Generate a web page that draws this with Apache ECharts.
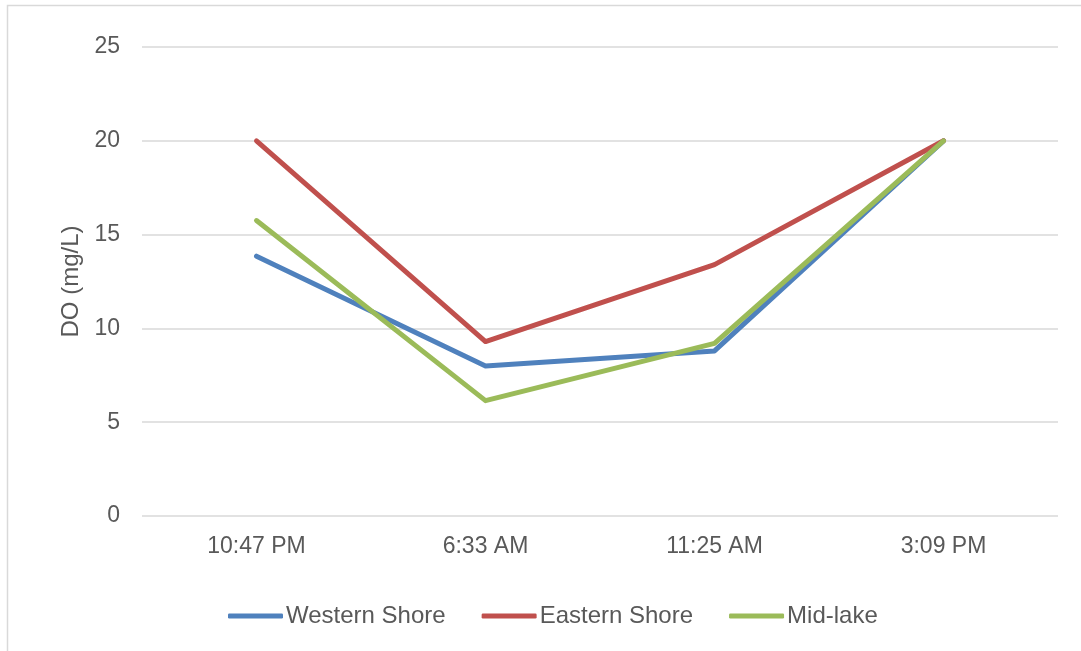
<!DOCTYPE html>
<html>
<head>
<meta charset="utf-8">
<script src="https://cdn.jsdelivr.net/npm/echarts@6/dist/echarts.min.js"></script>
<style>
  html, body { margin: 0; padding: 0; background: #ffffff; }
  #chart { width: 1081px; height: 651px; }
</style>
</head>
<body>
<div id="chart"></div>
<script>
// Sampling times along the x axis
const times = ['10:47 PM', '6:33 AM', '11:25 AM', '3:09 PM'];

// Dissolved oxygen readings (mg/L) at each site
const westernShore = [13.85, 8.0, 8.8, 20];
const easternShore = [20, 9.3, 13.4, 20];
const midLake = [15.75, 6.15, 9.2, 20];

const yTicks = { min: 0, max: 25, interval: 5 };

const textColor = '#595959';
const gridColor = '#D9D9D9';
const font = 'Liberation Sans, Arial, sans-serif';

function lineSeries(name, data, color) {
  return {
    name: name,
    type: 'line',
    data: data,
    showSymbol: false,
    symbol: 'none',
    lineStyle: { color: color, width: 5, cap: 'round', join: 'round' },
    itemStyle: { color: color },
    emphasis: { disabled: true },
    animation: false
  };
}

const chart = echarts.init(document.getElementById('chart'), null, { renderer: 'canvas' });
chart.setOption({
  backgroundColor: '#ffffff',
  animation: false,
  graphic: [{
    type: 'rect',
    shape: { x: 7.5, y: 5.5, width: 1200, height: 800 },
    style: { fill: 'none', stroke: gridColor, lineWidth: 1.5 },
    silent: true
  }],
  grid: { left: 142, right: 23, top: 47, bottom: 135 },
  legend: {
    bottom: 18,
    left: 223,
    itemWidth: 55,
    itemHeight: 5,
    itemGap: 36,
    icon: 'roundRect',
    textStyle: { color: textColor, fontSize: 24, fontFamily: font, padding: [0, 0, 0, -2] },
    data: ['Western Shore', 'Eastern Shore', 'Mid-lake']
  },
  xAxis: {
    type: 'category',
    data: times,
    boundaryGap: true,
    axisLine: { show: false },
    axisTick: { show: false },
    axisLabel: { color: textColor, fontSize: 23, fontFamily: font, margin: 19 },
    splitLine: { show: false }
  },
  yAxis: {
    type: 'value',
    min: yTicks.min,
    max: yTicks.max,
    interval: yTicks.interval,
    name: 'DO (mg/L)',
    nameLocation: 'middle',
    nameGap: 55,
    nameRotate: 90,
    nameTextStyle: { color: textColor, fontSize: 24, fontFamily: font },
    axisLine: { show: false },
    axisTick: { show: false },
    axisLabel: { color: textColor, fontSize: 23, fontFamily: font, margin: 22 },
    splitLine: { show: true, lineStyle: { color: gridColor, width: 1.5 } }
  },
  series: [
    lineSeries('Western Shore', westernShore, '#4F81BD'),
    lineSeries('Eastern Shore', easternShore, '#C0504D'),
    lineSeries('Mid-lake', midLake, '#9BBB59')
  ]
});
</script>
</body>
</html>
